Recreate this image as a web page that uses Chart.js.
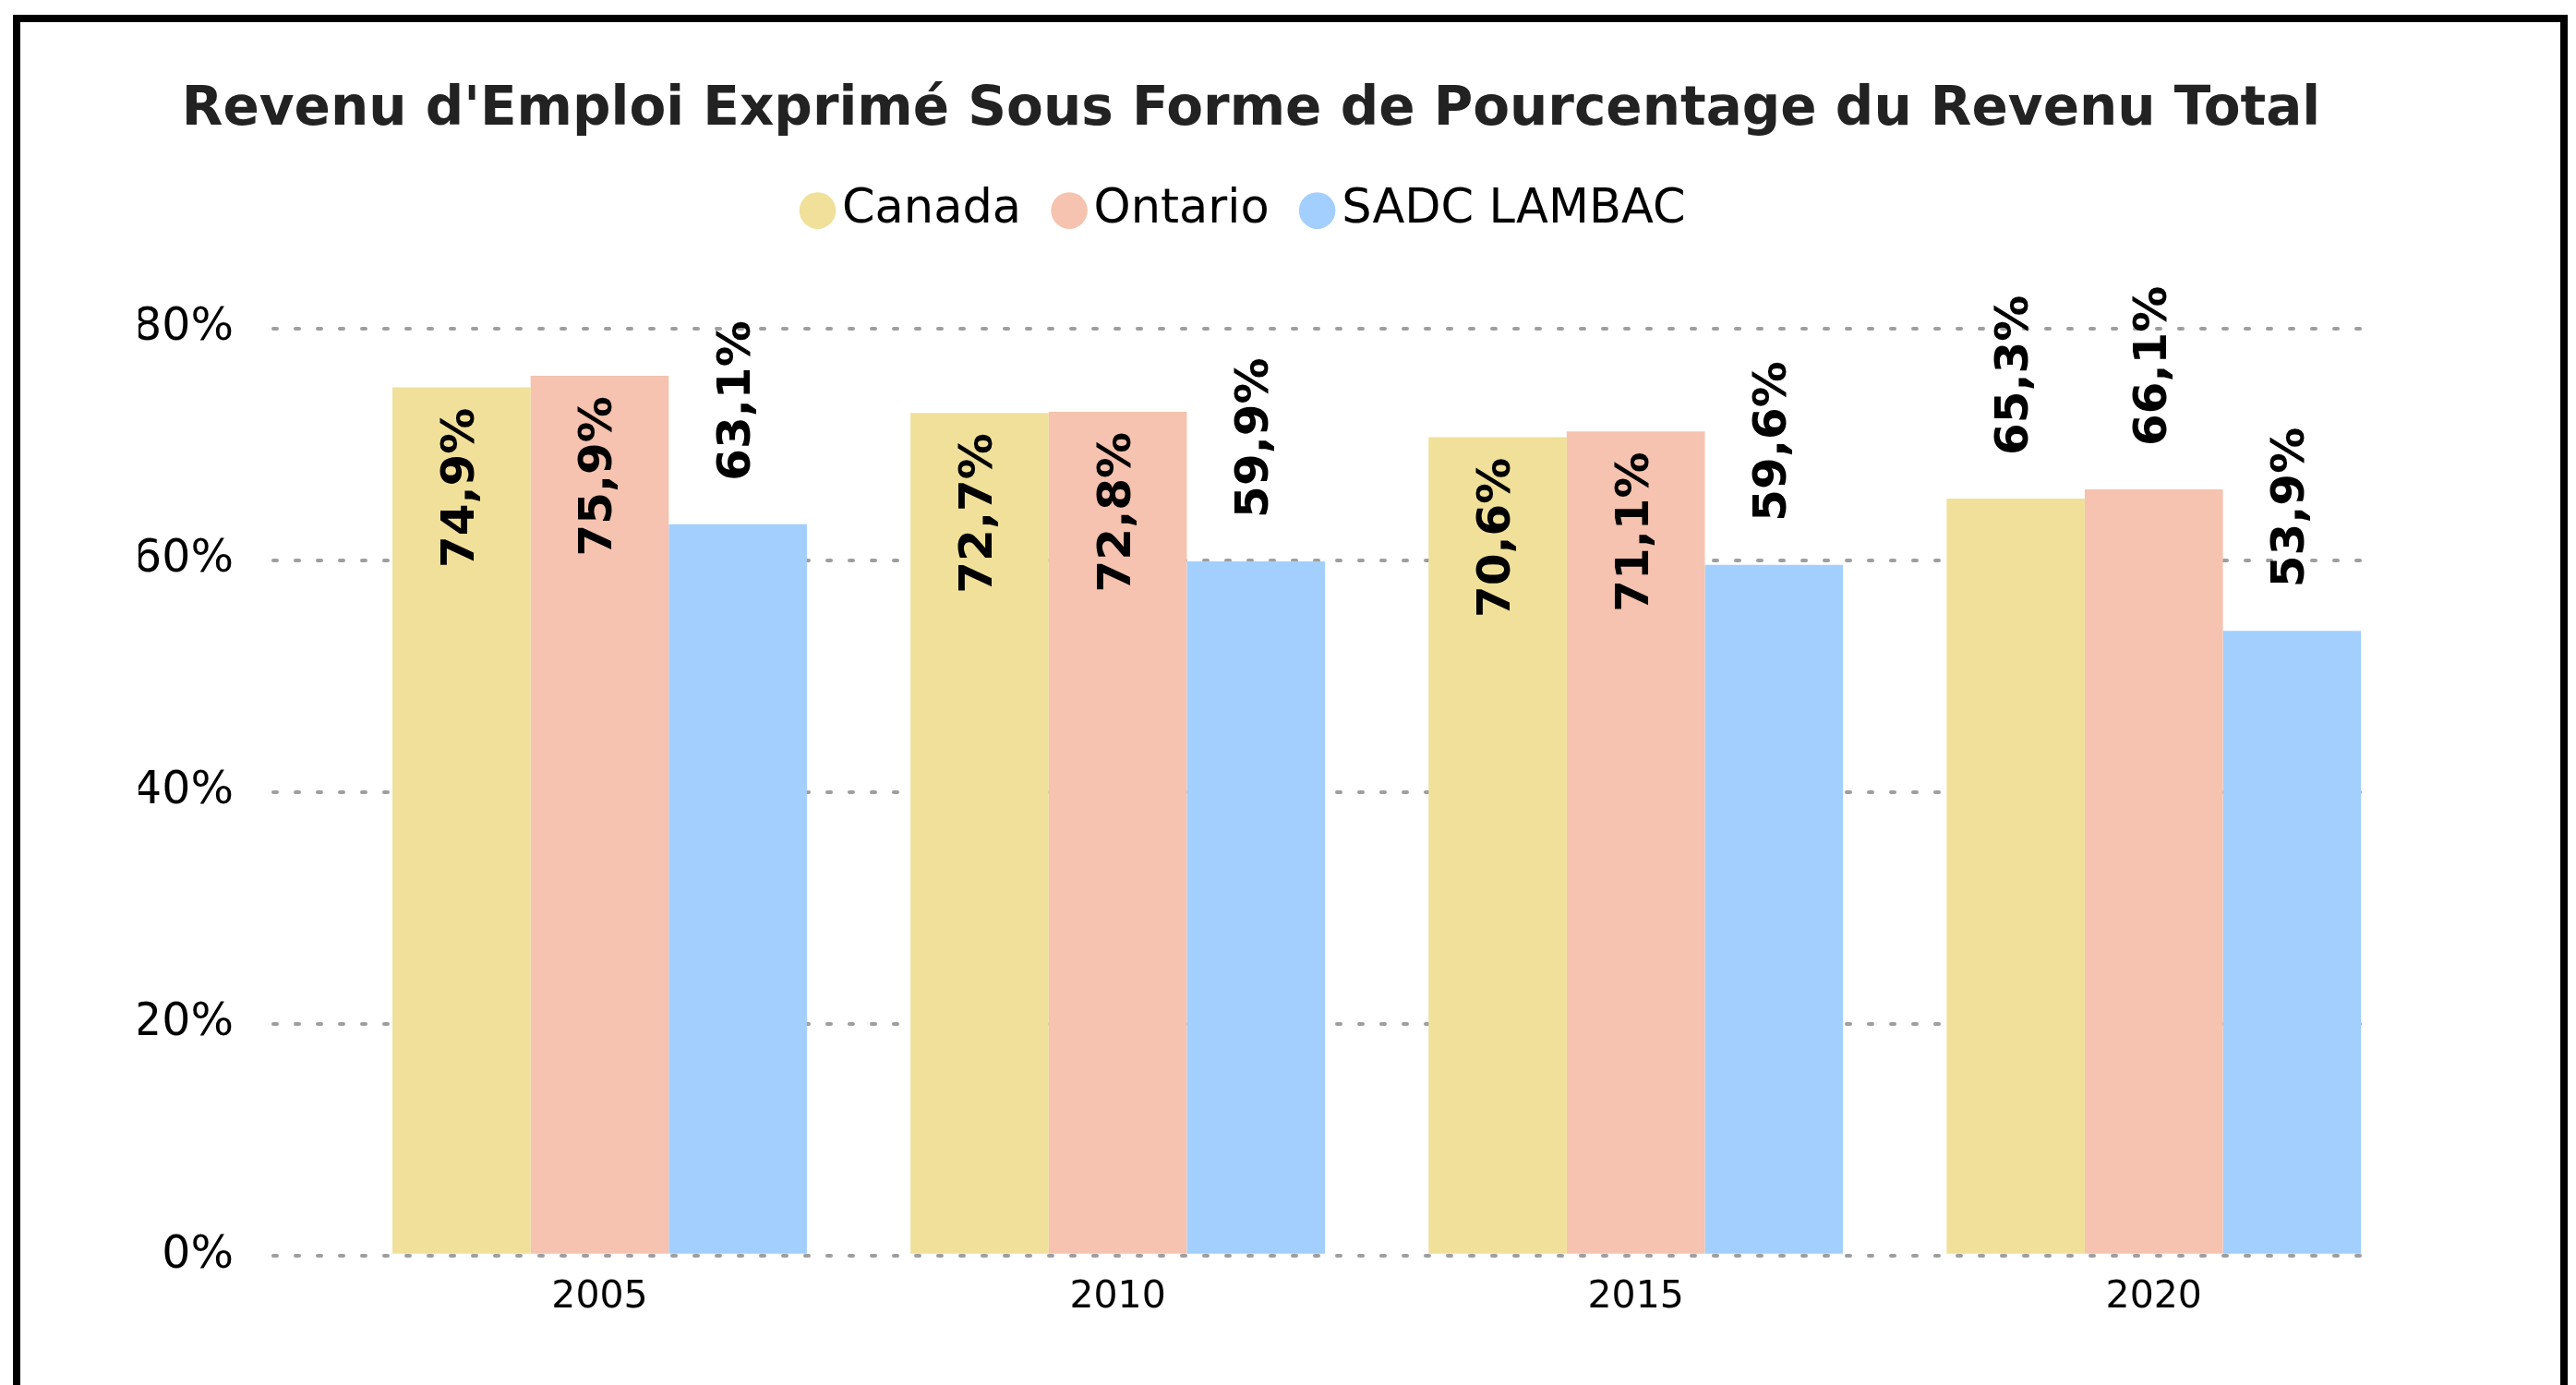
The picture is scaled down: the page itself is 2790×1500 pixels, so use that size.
<!DOCTYPE html>
<html lang="fr">
<head>
<meta charset="utf-8">
<title>Revenu d'emploi</title>
<script src="https://cdn.jsdelivr.net/npm/chart.js@4.4.1/dist/chart.umd.min.js"></script>
<style>
    html, body { margin: 0; padding: 0; background: #fff; overflow: hidden; }
    .chart-frame {
        position: absolute; left: 14px; top: 16px;
        width: 2767px; height: 1600px;
        border: 8px solid #000; box-sizing: border-box;
    }
    #revenu-chart { position: absolute; left: 0; top: 0; }
</style>
</head>
<body>
<div class="chart-frame"></div>
<canvas id="revenu-chart" width="2704" height="1500"></canvas>
<script>
(function() {
    'use strict';

    // Chart data
    var years = ['2005', '2010', '2015', '2020'];
    var canadaValues = [74.9, 72.7, 70.6, 65.3];
    var ontarioValues = [75.9, 72.8, 71.1, 66.1];
    var sadcValues = [63.1, 59.9, 59.6, 53.9];
    var yMax = 80;
    var yStep = 20;

    // Values at or above this get their label inside the bar
    var INSIDE_MIN = 70;

    Chart.defaults.font.family = "'DejaVu Sans', sans-serif";
    Chart.defaults.color = '#000';

    /**
     * Turn a list of values into {x, y} points on the year index
     */
    function toPoints(values) {
        return values.map(function(v, i) {
            return { x: i, y: v };
        });
    }

    function formatPercent(value) {
        return value.toFixed(1).replace('.', ',') + '%';
    }

    // Vertical value labels on each bar
    var barValueLabels = {
        id: 'barValueLabels',
        afterDatasetsDraw: function(chart) {
            var ctx = chart.ctx;
            ctx.save();
            ctx.font = 'bold 50px "DejaVu Sans"';
            ctx.fillStyle = '#000';
            ctx.textBaseline = 'middle';
            chart.data.datasets.forEach(function(dataset, i) {
                var meta = chart.getDatasetMeta(i);
                if (meta.hidden) {
                    return;
                }
                meta.data.forEach(function(bar, j) {
                    var value = dataset.data[j].y;
                    var inside = value >= INSIDE_MIN;
                    ctx.save();
                    ctx.translate(bar.x, inside ? bar.y + 22 : bar.y - 47);
                    ctx.rotate(-Math.PI / 2);
                    ctx.textAlign = inside ? 'right' : 'left';
                    ctx.fillText(formatPercent(value), 0, 0);
                    ctx.restore();
                });
            });
            ctx.restore();
        }
    };

    // Extra room between the legend and the plot
    var legendSpacing = {
        id: 'legendSpacing',
        beforeInit: function(chart) {
            var fitLegend = chart.legend.fit;
            chart.legend.fit = function() {
                fitLegend.call(this);
                this.height += 92;
            };
        }
    };

    // Rounded ends on the dotted grid lines
    var roundDots = {
        id: 'roundDots',
        beforeDraw: function(chart) {
            chart.ctx.lineCap = 'round';
        }
    };

    var ctx = document.getElementById('revenu-chart').getContext('2d');

    new Chart(ctx, {
        type: 'bar',
        data: {
            datasets: [{
                label: 'Canada',
                data: toPoints(canadaValues),
                backgroundColor: '#F0E09A'
            }, {
                label: 'Ontario',
                data: toPoints(ontarioValues),
                backgroundColor: '#F5C3AF'
            }, {
                label: 'SADC LAMBAC',
                data: toPoints(sadcValues),
                backgroundColor: '#A2CFFD'
            }]
        },
        plugins: [roundDots, barValueLabels, legendSpacing],
        options: {
            responsive: false,
            animation: false,
            layout: {
                padding: { left: 150, right: 144, top: 0, bottom: 57 }
            },
            datasets: {
                bar: {
                    barPercentage: 1,
                    categoryPercentage: 0.8,
                    borderWidth: 0
                }
            },
            plugins: {
                title: {
                    display: true,
                    text: "Revenu d'Emploi Exprimé Sous Forme de Pourcentage du Revenu Total",
                    color: '#222',
                    font: { size: 58, weight: 'bold' },
                    padding: { top: 85, bottom: -3 }
                },
                legend: {
                    position: 'top',
                    labels: {
                        usePointStyle: true,
                        pointStyle: 'circle',
                        boxWidth: 2,
                        boxHeight: 28,
                        padding: 51,
                        color: '#000',
                        font: { size: 51 }
                    }
                },
                tooltip: { enabled: false }
            },
            scales: {
                x: {
                    type: 'linear',
                    min: -0.63,
                    max: 3.405,
                    offset: false,
                    grid: { display: false, offset: false },
                    border: { display: false },
                    ticks: {
                        stepSize: 1,
                        includeBounds: false,
                        padding: 13,
                        color: '#000',
                        font: { size: 41 },
                        callback: function(value) {
                            return years[value] || '';
                        }
                    }
                },
                y: {
                    min: 0,
                    max: yMax,
                    afterFit: function(scale) {
                        scale.width = 146;
                    },
                    grid: {
                        color: '#9e9e9e',
                        lineWidth: 4,
                        drawTicks: false
                    },
                    border: { display: false, dash: [4, 20] },
                    ticks: {
                        stepSize: yStep,
                        padding: 43,
                        color: '#000',
                        font: { size: 49 },
                        callback: function(value) {
                            return value + '%';
                        }
                    }
                }
            }
        }
    });
})();
</script>
</body>
</html>
